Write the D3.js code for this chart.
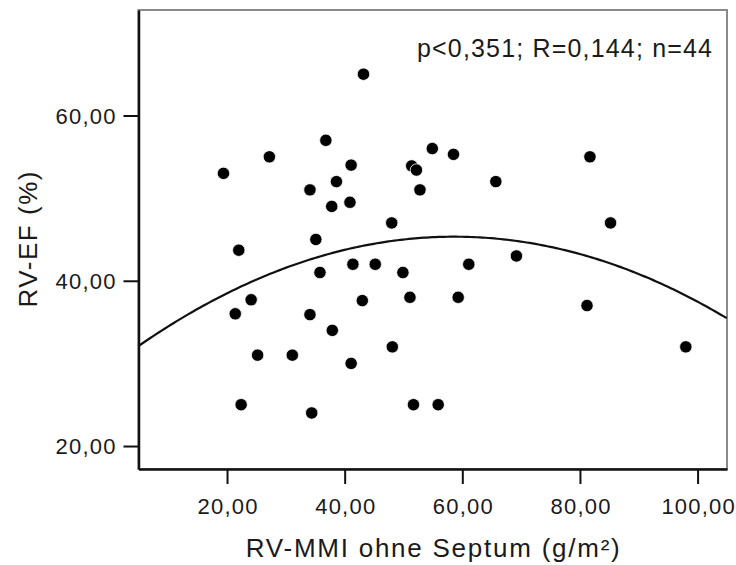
<!DOCTYPE html>
<html>
<head>
<meta charset="utf-8">
<script src="https://cdn.jsdelivr.net/npm/d3@7"></script>
<style>
  html, body { margin: 0; padding: 0; background: #fff; }
  svg { display: block; }
  text { font-family: "Liberation Sans", Arial, sans-serif; fill: #1a1a1a; }
</style>
</head>
<body>
<svg id="chart" width="736" height="565"></svg>
<script>
// ---- data ----
const mmiValues = [43.2, 36.8, 27.2, 19.4, 41.1, 38.6, 34.1, 40.9, 37.8, 48.0,
                   35.1, 22.0, 51.4, 52.2, 52.8, 54.9, 58.5, 65.7, 81.7, 85.2,
                   35.8, 41.4, 45.2, 49.9, 24.1, 21.4, 34.1, 43.0, 51.1, 37.9,
                   25.2, 31.1, 48.1, 41.1, 22.4, 34.4, 51.7, 61.1, 69.2, 59.3,
                   81.2, 98.0, 55.9];
const efValues  = [65.0, 57.0, 55.0, 53.0, 54.0, 52.0, 51.0, 49.5, 49.0, 47.0,
                   45.0, 43.7, 53.9, 53.4, 51.0, 56.0, 55.3, 52.0, 55.0, 47.0,
                   41.0, 42.0, 42.0, 41.0, 37.7, 36.0, 35.9, 37.6, 38.0, 34.0,
                   31.0, 31.0, 32.0, 30.0, 25.0, 24.0, 25.0, 42.0, 43.0, 38.0,
                   37.0, 32.0, 25.0];
const xTicks = [20, 40, 60, 80, 100];
const yTicks = [20, 40, 60];
const xDomain = [4.95, 105.0];
const yDomain = [17.22, 72.77];
// quadratic fit: EF = b0 + b1*x + b2*x^2
const fitCoef = [29.55, 0.5385, -0.004593];
const statsLabel = "p<0,351; R=0,144; n=44";
const xTitle = "RV-MMI ohne Septum (g/m²)";
const yTitle = "RV-EF (%)";

// ---- layout ----
const L = 138.5, R = 727, T = 10, B = 469;
const svg = d3.select("#chart");

const x = d3.scaleLinear().domain(xDomain).range([L, R]);
const y = d3.scaleLinear().domain(yDomain).range([B, T]);
const fmt = v => d3.format(".2f")(v).replace(".", ",");

// frame (top/right)
svg.append("rect")
  .attr("x", L).attr("y", T).attr("width", R - L).attr("height", B - T)
  .attr("fill", "none").attr("stroke", "#8a8a8a").attr("stroke-width", 2);

// fit curve
const curveX = d3.range(xDomain[0], xDomain[1] + 0.001, 0.5);
const line = d3.line()
  .x(d => x(d))
  .y(d => y(fitCoef[0] + fitCoef[1] * d + fitCoef[2] * d * d));
svg.append("path")
  .datum(curveX)
  .attr("d", line)
  .attr("fill", "none")
  .attr("stroke", "#111")
  .attr("stroke-width", 2.2);

// points
const pts = mmiValues.map((v, i) => ({ x: v, y: efValues[i] }));
svg.append("g").selectAll("circle")
  .data(pts)
  .join("circle")
  .attr("cx", d => x(d.x))
  .attr("cy", d => y(d.y))
  .attr("r", 6.2)
  .attr("fill", "#000")
  .attr("stroke", "#fff")
  .attr("stroke-width", 0.8);

// axes
const xAxis = svg.append("g")
  .attr("transform", `translate(0,${B})`)
  .call(d3.axisBottom(x).tickValues(xTicks).tickFormat(fmt).tickSize(15).tickPadding(14).tickSizeOuter(0));
const yAxis = svg.append("g")
  .attr("transform", `translate(${L},0)`)
  .call(d3.axisLeft(y).tickValues(yTicks).tickFormat(fmt).tickSize(15).tickPadding(8).tickSizeOuter(0));

[xAxis, yAxis].forEach(g => {
  g.select(".domain").attr("stroke", "#111").attr("stroke-width", 2.5);
  g.selectAll(".tick line").attr("stroke", "#111").attr("stroke-width", 2);
  g.selectAll(".tick text")
    .attr("fill", "#1a1a1a")
    .style("font-family", '"Liberation Sans", Arial, sans-serif')
    .style("font-size", "22px")
    .each(function () {
      const w = this.getComputedTextLength();
      d3.select(this).attr("textLength", w * 1.09).attr("lengthAdjust", "spacing");
    });
});
yAxis.selectAll(".tick text").attr("dy", "0.36em");

// stats annotation
const st = svg.append("text")
  .attr("x", 712).attr("y", 57)
  .attr("text-anchor", "end")
  .style("font-size", "25px")
  .text(statsLabel);
st.attr("textLength", 295).attr("lengthAdjust", "spacing");

// axis titles
svg.append("text")
  .attr("x", (L + R) / 2).attr("y", 557)
  .attr("text-anchor", "middle")
  .style("font-size", "26px")
  .attr("textLength", 374).attr("lengthAdjust", "spacing")
  .text(xTitle);

svg.append("text")
  .attr("transform", `translate(36.5,${(T + B) / 2}) rotate(-90)`)
  .attr("text-anchor", "middle")
  .style("font-size", "26px")
  .attr("textLength", 136).attr("lengthAdjust", "spacing")
  .text(yTitle);
</script>
</body>
</html>
